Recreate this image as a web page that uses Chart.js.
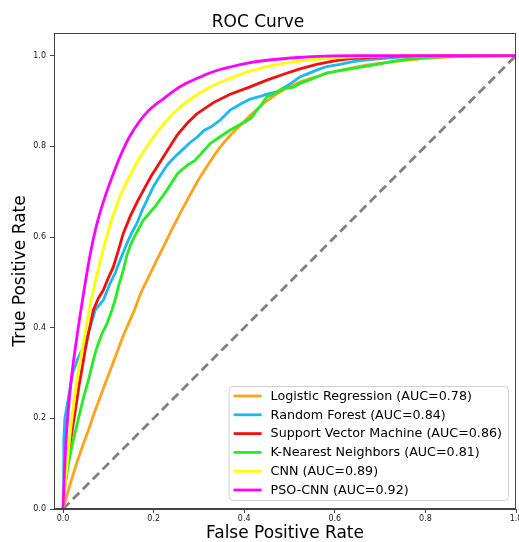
<!DOCTYPE html>
<html lang="en">
<head>
<meta charset="UTF-8">
<title>ROC Curve</title>
<script src="https://cdn.jsdelivr.net/npm/chart.js"></script>
<style>
  html, body { margin: 0; padding: 0; background: #fff; }
  #roc { display: block; }
</style>
</head>
<body>
<canvas id="roc" width="519" height="542"></canvas>
<script>
// tick labels
const xTicks = [0, 0.2, 0.4, 0.6, 0.8, 1.0];
const yTicks = [0, 0.2, 0.4, 0.6, 0.8, 1.0];

// legend labels (same order as plotted)
const modelLabels = [
  'Logistic Regression (AUC=0.78)',
  'Random Forest (AUC=0.84)',
  'Support Vector Machine (AUC=0.86)',
  'K-Nearest Neighbors (AUC=0.81)',
  'CNN (AUC=0.89)',
  'PSO-CNN (AUC=0.92)'
];

// false positive rate / true positive rate per model
const fprLR = [0, 0.01, 0.025, 0.04, 0.056, 0.07, 0.085, 0.1, 0.119, 0.13, 0.145, 0.158, 0.17, 0.188, 0.207, 0.225, 0.242, 0.26, 0.275, 0.3, 0.327, 0.35, 0.369, 0.395, 0.413, 0.45, 0.486, 0.523, 0.56, 0.596, 0.67, 0.743, 0.8, 0.87, 1.0];
const tprLR = [0, 0.035, 0.085, 0.13, 0.174, 0.215, 0.255, 0.295, 0.345, 0.375, 0.41, 0.44, 0.472, 0.51, 0.549, 0.585, 0.62, 0.655, 0.683, 0.728, 0.77, 0.802, 0.824, 0.85, 0.868, 0.9, 0.924, 0.942, 0.954, 0.964, 0.979, 0.988, 0.994, 0.998, 1.0];

const fprRF = [0, 0.001, 0.002, 0.004, 0.01, 0.021, 0.032, 0.042, 0.049, 0.06, 0.071, 0.08, 0.089, 0.104, 0.115, 0.126, 0.141, 0.152, 0.163, 0.175, 0.185, 0.2, 0.216, 0.231, 0.246, 0.261, 0.28, 0.297, 0.311, 0.327, 0.347, 0.369, 0.395, 0.413, 0.435, 0.45, 0.472, 0.494, 0.51, 0.523, 0.545, 0.56, 0.582, 0.611, 0.64, 0.67, 0.743, 0.85, 1.0];
const tprRF = [0, 0.08, 0.15, 0.2, 0.235, 0.3, 0.33, 0.351, 0.365, 0.402, 0.439, 0.45, 0.461, 0.498, 0.52, 0.549, 0.586, 0.61, 0.63, 0.66, 0.681, 0.712, 0.738, 0.76, 0.776, 0.79, 0.808, 0.821, 0.835, 0.843, 0.858, 0.88, 0.895, 0.904, 0.91, 0.915, 0.92, 0.933, 0.944, 0.953, 0.962, 0.968, 0.976, 0.981, 0.987, 0.991, 0.997, 1.0, 1.0];

const fprSVM = [0, 0.004, 0.01, 0.018, 0.026, 0.035, 0.042, 0.049, 0.056, 0.067, 0.078, 0.089, 0.1, 0.111, 0.122, 0.133, 0.148, 0.165, 0.18, 0.195, 0.213, 0.23, 0.252, 0.275, 0.296, 0.333, 0.369, 0.41, 0.45, 0.49, 0.523, 0.56, 0.596, 0.63, 0.67, 0.75, 0.85, 1.0];
const tprSVM = [0, 0.05, 0.1, 0.16, 0.21, 0.27, 0.31, 0.351, 0.387, 0.439, 0.465, 0.483, 0.51, 0.534, 0.57, 0.608, 0.645, 0.68, 0.708, 0.735, 0.763, 0.79, 0.825, 0.852, 0.872, 0.897, 0.915, 0.93, 0.946, 0.96, 0.971, 0.981, 0.988, 0.993, 0.996, 0.999, 1.0, 1.0];

const fprKNN = [0, 0.003, 0.01, 0.02, 0.034, 0.045, 0.056, 0.066, 0.073, 0.078, 0.086, 0.097, 0.108, 0.115, 0.122, 0.133, 0.141, 0.15, 0.16, 0.177, 0.203, 0.224, 0.24, 0.253, 0.275, 0.29, 0.305, 0.325, 0.345, 0.369, 0.385, 0.398, 0.415, 0.428, 0.44, 0.45, 0.464, 0.486, 0.508, 0.523, 0.54, 0.56, 0.582, 0.596, 0.633, 0.684, 0.743, 0.8, 0.875, 1.0];
const tprKNN = [0, 0.04, 0.09, 0.14, 0.2, 0.245, 0.284, 0.325, 0.351, 0.365, 0.387, 0.409, 0.439, 0.461, 0.49, 0.527, 0.56, 0.585, 0.605, 0.637, 0.667, 0.696, 0.72, 0.74, 0.759, 0.768, 0.784, 0.806, 0.82, 0.836, 0.845, 0.852, 0.862, 0.88, 0.895, 0.909, 0.915, 0.928, 0.93, 0.939, 0.945, 0.953, 0.962, 0.964, 0.971, 0.979, 0.99, 0.996, 0.999, 1.0];

const fprCNN = [0, 0.005, 0.01, 0.015, 0.022, 0.03, 0.04, 0.05, 0.06, 0.078, 0.097, 0.122, 0.15, 0.179, 0.208, 0.245, 0.281, 0.325, 0.369, 0.41, 0.45, 0.523, 0.6, 0.7, 0.8, 1.0];
const tprCNN = [0, 0.06, 0.11, 0.16, 0.22, 0.28, 0.34, 0.395, 0.45, 0.53, 0.603, 0.68, 0.74, 0.79, 0.832, 0.874, 0.904, 0.931, 0.95, 0.965, 0.976, 0.988, 0.995, 0.999, 1.0, 1.0];

const fprPSO = [0, 0.003, 0.006, 0.01, 0.015, 0.021, 0.027, 0.035, 0.042, 0.05, 0.06, 0.072, 0.086, 0.1, 0.113, 0.127, 0.149, 0.186, 0.223, 0.259, 0.296, 0.333, 0.369, 0.41, 0.46, 0.52, 0.58, 0.65, 0.75, 1.0];
const tprPSO = [0, 0.08, 0.14, 0.2, 0.255, 0.31, 0.355, 0.41, 0.455, 0.505, 0.562, 0.618, 0.668, 0.71, 0.745, 0.78, 0.825, 0.876, 0.906, 0.932, 0.95, 0.965, 0.975, 0.984, 0.991, 0.996, 0.999, 1.0, 1.0, 1.0];

// chance line
const diagX = [0, 1];
const diagY = [0, 1];

const modelColors = ['#ffa31a', '#1cb8f2', '#f01010', '#22ee22', '#ffff00', '#ff00ff'];
const modelSmooth = [true, false, false, false, true, true];
const fprAll = [fprLR, fprRF, fprSVM, fprKNN, fprCNN, fprPSO];
const tprAll = [tprLR, tprRF, tprSVM, tprKNN, tprCNN, tprPSO];

const FONT = '"DejaVu Sans", sans-serif';
Chart.defaults.font.family = FONT;

function pontos(xs, ys) {
  return xs.map((x, i) => ({ x: x, y: ys[i] }));
}

const datasets = modelLabels.map((label, i) => ({
  label: label,
  data: pontos(fprAll[i], tprAll[i]),
  borderColor: modelColors[i],
  backgroundColor: modelColors[i],
  borderWidth: 2.8,
  showLine: true,
  pointRadius: 0,
  cubicInterpolationMode: modelSmooth[i] ? 'monotone' : 'default',
  tension: 0,
  order: modelLabels.length - i,
  inLegend: true
}));

datasets.push({
  label: 'chance',
  data: pontos(diagX, diagY),
  borderColor: '#808080',
  borderWidth: 2.8,
  borderDash: [9, 5],
  showLine: true,
  pointRadius: 0,
  order: 10,
  inLegend: false
});

// frame on all four sides, like matplotlib spines
const moldura = {
  id: 'moldura',
  afterDatasetsDraw(chart) {
    const a = chart.chartArea;
    const ctx = chart.ctx;
    ctx.save();
    ctx.strokeStyle = '#444';
    ctx.lineWidth = 1;
    ctx.strokeRect(Math.round(a.left) + 0.5, Math.round(a.top) + 0.5,
      Math.round(a.right - a.left) - 1, Math.round(a.bottom - a.top) - 1);
    ctx.restore();
  }
};

// legend drawn inside the plot, lower right
const legendaDentro = {
  id: 'legendaDentro',
  afterDraw(chart) {
    const ctx = chart.ctx;
    const a = chart.chartArea;
    const itens = chart.data.datasets.filter(d => d.inLegend);
    ctx.save();
    ctx.font = '12.7px ' + FONT;
    const textW = Math.max(...itens.map(d => ctx.measureText(d.label).width));
    const rowH = 18.8;
    const boxW = 5 + 28 + 9 + textW + 6;
    const boxH = rowH * (itens.length - 1) + 20;
    const right = a.right - 8;
    const bottom = a.bottom - 9;
    const left = right - boxW;
    const top = bottom - boxH;

    ctx.beginPath();
    ctx.roundRect(left + 0.5, top + 0.5, boxW, boxH, 4);
    ctx.fillStyle = 'rgba(255,255,255,0.8)';
    ctx.fill();
    ctx.strokeStyle = '#d0d0d0';
    ctx.lineWidth = 1;
    ctx.stroke();

    itens.forEach((d, i) => {
      const cy = top + 10 + i * rowH;
      ctx.beginPath();
      ctx.moveTo(left + 5, cy);
      ctx.lineTo(left + 33, cy);
      ctx.strokeStyle = d.borderColor;
      ctx.lineWidth = 2.8;
      ctx.stroke();
      ctx.fillStyle = '#000';
      ctx.textBaseline = 'middle';
      ctx.textAlign = 'left';
      ctx.fillText(d.label, left + 42, cy + 0.5);
    });
    ctx.restore();
  }
};

const ctx = document.getElementById('roc').getContext('2d');
const grafico = new Chart(ctx, {
  type: 'scatter',
  data: { datasets: datasets },
  options: {
    responsive: false,
    animation: false,
    devicePixelRatio: 1,
    layout: { padding: { top: 0, right: 3, bottom: 0, left: 0 } },
    plugins: {
      legend: { display: false },
      tooltip: { enabled: false },
      title: {
        display: true,
        text: 'ROC Curve',
        color: '#000',
        font: { size: 17, weight: 'normal', family: FONT, lineHeight: 1.2 },
        padding: { top: 12, bottom: 0.6 }
      }
    },
    scales: {
      x: {
        type: 'linear',
        min: -0.02,
        max: 1.0,
        afterBuildTicks: s => { s.ticks = xTicks.map(v => ({ value: v })); },
        afterFit: s => { s.height = 33; s.paddingLeft = 0; s.paddingRight = 0; },
        ticks: {
          callback: v => v.toFixed(1),
          font: { size: 8, family: FONT },
          color: '#222',
          padding: 1,
          autoSkip: false,
          maxRotation: 0
        },
        grid: { drawOnChartArea: false, drawTicks: true, tickLength: 4, color: '#444' },
        border: { color: '#444' },
        title: {
          display: true,
          text: 'False Positive Rate',
          color: '#000',
          font: { size: 17, family: FONT, lineHeight: 1 },
          padding: { top: 0, bottom: 0 }
        }
      },
      y: {
        type: 'linear',
        min: 0,
        max: 1.05,
        afterBuildTicks: s => { s.ticks = yTicks.map(v => ({ value: v })); },
        afterFit: s => { s.width = 54; s.paddingTop = 0; s.paddingBottom = 0; },
        ticks: {
          callback: v => v.toFixed(1),
          font: { size: 8, family: FONT },
          color: '#222',
          padding: 4,
          autoSkip: false
        },
        grid: { drawOnChartArea: false, drawTicks: true, tickLength: 4, color: '#444' },
        border: { color: '#444' },
        title: {
          display: true,
          text: 'True Positive Rate',
          color: '#000',
          font: { size: 17, family: FONT, lineHeight: 1 },
          padding: { top: 12, bottom: 0 }
        }
      }
    }
  },
  plugins: [moldura, legendaDentro]
});
</script>
</body>
</html>
